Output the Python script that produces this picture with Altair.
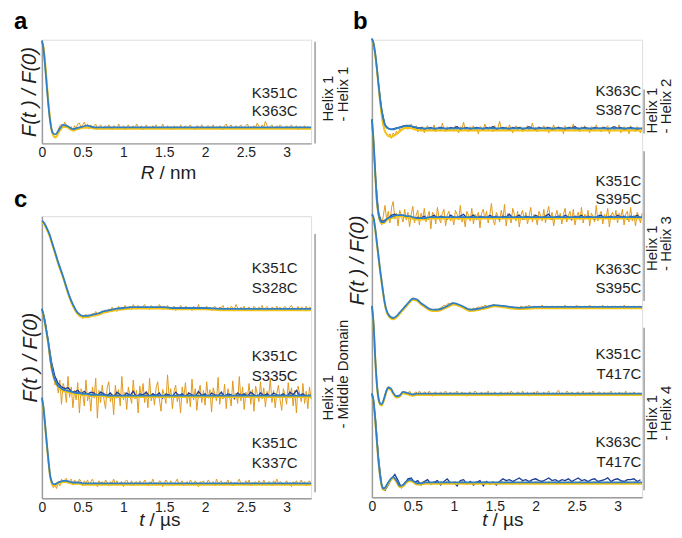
import altair as alt
import numpy as np
import pandas as pd

FONT = "Liberation Sans"

# sampling grids (µs)
T_DATA = np.round(np.arange(166) * 0.02, 2)
T_NAVY = np.round(np.arange(83) * 0.04, 2)
T_FIT = [0, 0.02, 0.04, 0.06, 0.08, 0.10, 0.12, 0.14, 0.16, 0.18, 0.20, 0.23, 0.26,
         0.30, 0.34, 0.38, 0.42, 0.46, 0.50, 0.55, 0.60, 0.65, 0.70, 0.75, 0.80, 0.90,
         1.00, 1.10, 1.20, 1.30, 1.40, 1.50, 1.60, 1.80, 2.00, 2.20, 2.40, 2.60, 2.80,
         3.00, 3.30]
TICKS = [0, 0.5, 1, 1.5, 2, 2.5, 3]

# values in % of modulation (100 = F(0), 0 = plateau)
# ---------------- panel a : K351C / K363C
A_FIT = [100, 90, 70, 47, 25, 8, -3, -7, -8, -7, -4, 0, 3, 2, 0, -2, -1, 0, 1, 2, 1] + [0] * 20
A_YEL = [100, 94, 76, 53, 30, 11, -2, -8, -10, -9, -5, -1, 2, 2, 0, -2, -1, 0, 1, 1, 1] + [0] * 20
A_DATA = [100, 93, 75, 52, 30, 10, -4, -10, -11, -9,
          -3, 2, 4, 1, 6, 3, 0, -3, 1, -4,
          2, -1, 4, 5, 0, 3, 6, 1, 4, -2,
          3, -1, 2, 4, -3, 1, 3, -2, 0, 2,
          -1, 3, 0, -3, 2, 1, -2, 4, 0, -1,
          2, -3, 1, 3, -1, 0, 2, -2, 4, 1,
          -1, 2, -3, 0, 3, -1, 1, -2, 2, 0,
          3, -2, 1, -1, 4, 0, -2, 2, -1, 1,
          -3, 2, 0, 1, -2, 3, -1, 0, 2, -2,
          1, 3, -1, 0, -3, 2, 1, -1, 3, 0,
          -2, 1, 2, -1, 0, 3, -2, 1, -1, 2,
          0, -3, 2, 4, -1, 1, 3, -2, 0, 2,
          -1, 1, 3, -2, 0, 2, 4, -1, 1, -2,
          2, 0, 5, 1, -2, 3, 0, 7, 2, -1,
          1, 3, -2, 0, 2, -1, 3, 1, -2, 0,
          2, -1, 1, 3, -2, 0, 2, -3, 1, 0,
          -1, 2, -2, 1, -1, 0]

# ---------------- panel c
C1_FIT = [100, 99, 96, 92, 88, 83, 77, 71, 65, 59, 53, 45, 37, 25, 14, 5, -2, -6, -8, -8,
          -7, -6, -5, -3, -2, 0, 1, 2, 2, 2, 2, 2, 1, 1, 1, 0, 0, 0, 0, 0, 0]
C1_DATA = [100, 98, 97, 92, 87, 84, 76, 72, 64, 60,
           52, 47, 41, 36, 30, 24, 17, 12, 7, 3,
           0, -4, -6, -9, -7, -11, -8, -6, -10, -7,
           -9, -5, -7, -3, -6, -4, -7, -2, -4, -1,
           -3, 0, -2, 2, -1, 1, -3, 3, 0, 2,
           1, 4, 0, 2, 3, -1, 5, 2, 1, 4,
           2, 0, 3, 5, 1, 2, -1, 4, 2, 0,
           3, 1, 5, 2, -1, 3, 1, 4, 0, 2,
           1, 3, -2, 2, 0, 4, 1, -1, 3, 2,
           0, 2, -2, 3, 1, 0, 5, -1, 2, 1,
           -1, 3, 0, 2, -2, 1, 3, 0, -1, 2,
           1, 4, -1, 0, 2, -2, 3, 1, 0, 5,
           1, -1, 2, 0, 3, -2, 1, 2, 0, -1,
           3, 1, -2, 2, 0, 4, -1, 1, 3, 0,
           -2, 2, 1, -1, 3, 0, 2, -2, 1, 3,
           0, -1, 2, 4, -1, 1, 0, 3, -2, 2,
           1, -1, 3, 0, 2, 1]

C2_FIT = [100, 93, 83, 72, 60, 45, 33, 24, 18, 14, 11, 9, 7, 6, 5, 4, 3, 3, 2, 2,
          1, 1, 1, 1] + [0] * 17
C2_DATA = [100, 95, 86, 70, 62, 40, 28, 30, 12, 20,
           3, 18, -10, 14, 8, -8, 22, -2, 10, -14,
           6, -5, 15, -20, 8, 2, -12, 18, -6, 4,
           -18, 10, -3, 20, -26, 6, -8, 12, -4, -15,
           9, 16, -7, 2, -22, 12, -3, 7, -12, 22,
           -5, 4, -16, 10, 0, -9, 18, -4, 6, -20,
           11, -2, 14, -8, 5, -14, 20, -6, 3, -11,
           9, 16, -4, -18, 7, 1, -9, 24, -3, 8,
           -15, 5, 12, -7, 2, -20, 10, -2, 15, -9,
           4, -13, 19, -5, 8, -17, 3, 12, -8, 6,
           -11, 16, -3, 7, -19, 9, 2, -6, 21, -10,
           5, -4, 13, -15, 8, 0, -12, 17, -5, 3,
           -9, 22, -6, 10, -16, 4, -2, 14, -10, 7,
           -18, 11, 2, -7, 16, -4, 9, -13, 5, -1,
           20, -8, 6, -14, 3, 12, -5, -17, 8, 1,
           -10, 15, -3, 9, -12, 6, -20, 11, 2, -7,
           14, -9, 5, -15, 10, -4]
C2_NAVY = [100, 85, 62, 38, 22, 14, 10, 8, 9, 5,
           4, 6, 2, 5, 1, 4, 3, -1, 4, 2,
           0, 3, -2, 4, 1, -1, 3, 0, 5, -2,
           2, 1, 4, -1, 2, 0, 3, -3, 2, 1,
           -1, 4, 0, 2, -2, 3, 1, -1, 5, 0,
           2, -2, 3, 1, 0, 4, -1, 2, 1, -3,
           3, 0, 2, -1, 4, 1, -2, 3, 0, 2,
           -1, 3, 1, 0, 2, -2, 4, 1, 6, 0,
           2, -1, 1]

C3_FIT = [100, 88, 68, 47, 27, 10, 2, -1, -1, 0, 1, 2, 3, 3, 2, 1, 1, 1, 0] + [0] * 22
C3_DATA = [100, 86, 66, 44, 25, 8, -1, -5, -2, -6,
           2, -3, 5, 1, 4, 6, 0, 3, 5, -2,
           4, 1, -1, 5, 2, -3, 3, 0, 4, -2,
           2, 5, -1, 1, -4, 3, 0, 2, -2, 4,
           1, -3, 2, 0, 5, -1, 3, -2, 1, 2,
           -4, 2, 4, 0, -1, 3, -3, 1, 2, -2,
           3, 0, -1, 4, 1, -3, 2, 0, 5, -1,
           1, -2, 3, 2, -4, 0, 4, 1, -2, 3,
           0, -1, 2, 5, -2, 1, 3, -3, 0, 2,
           -1, 4, 1, -2, 3, 0, -4, 2, 1, 3,
           -2, 0, 4, 1, -1, 2, -3, 5, 0, 1,
           3, -2, 1, 0, 4, -1, 2, -3, 1, 0,
           2, 5, -1, 1, -2, 3, 0, 4, -3, 1,
           0, 2, -2, 3, 1, -1, 4, 0, -2, 2,
           1, -3, 3, 0, 5, -1, 2, 1, -2, 0,
           3, -1, 1, -4, 2, 0, 3, -2, 1, 4,
           -1, 2, -3, 1, 3, -1]

# ---------------- panel b
B1_FIT = [100, 95, 84, 68, 50, 33, 20, 10, 4, 1, 0, -1, -1, 0, 1, 2, 3, 3, 2, 1, 0] + [0] * 20
B1_YEL = [100, 95, 84, 68, 49, 31, 16, 5, -2, -5, -7, -8, -7, -5, -2, 1, 2, 2, 1, 0, -1] + [-1] * 20
B1_DATA = [100, 96, 83, 66, 47, 30, 15, 3, -4, -6,
           -9, -6, -11, -5, -8, -3, -6, 0, -3, 3,
           1, 4, -1, 2, 5, 0, -2, 3, -4, 1,
           -2, 2, -5, 0, 3, -3, 1, -1, 4, -4,
           0, 2, -3, 6, -1, -4, 2, 0, -2, 1,
           -3, 3, -1, -5, 2, 0, 7, -2, 1, -4,
           2, -1, 3, -3, 0, -6, 2, 1, -2, 5,
           -1, -3, 2, 0, -4, 3, -2, 1, 8, -1,
           0, -3, 2, -2, 4, -1, -5, 1, 3, -2,
           0, 2, -4, 1, -1, 3, -3, 0, 6, -2,
           1, -4, 2, -1, 0, 3, -3, 2, -5, 1,
           -1, 4, -2, 0, 2, -3, 1, -6, 3, 0,
           -2, 2, -1, 5, -3, 0, 1, -4, 2, -1,
           3, -2, 0, -5, 2, 1, -3, 4, -1, 0,
           -4, 2, -2, 1, 3, -6, 0, 2, -3, 1,
           -1, 4, -5, 0, 2, -3, 1, -6, 3, -2,
           0, -4, 2, -1, -5, 1]
B1_NAVY = [100, 84, 50, 20, 4, 0, -1, 0, 1, 2,
           3, 3, 2, 1, 0, 1, -1, 0, 1, -1,
           0, 1, 0, -1, 1, 0, 2, -1, 0, 1,
           -1, 0, 1, 0, -1, 1, 0, 2, -1, 0,
           1, 0, -1, 1, 0, 1, -1, 0, 2, 0,
           -1, 1, 0, 0, 1, -1, 0, 1, 0, -1,
           1, 0, 2, -1, 0, 1, 0, -1, 1, 0,
           0, 1, -1, 0, 2, 0, 1, -1, 0, 1,
           0, -1, 0]

B2_FIT = [100, 78, 47, 18, 4, -3, -5, -5, -4, -2, -1, 0, 1, 2, 2, 2, 1, 1, 0, -1,
          -1, -1] + [0] * 19
B2_DATA = [100, 80, 44, 20, 8, -4, -8, 2, 12, -3,
           6, -6, 10, 16, -2, 4, -9, 7, 1, -5,
           8, -3, 5, -10, 3, 11, -6, 2, 7, -8,
           4, -2, 9, -5, 0, 6, -12, 5, 3, -7,
           10, -1, -6, 4, 8, -9, 2, 6, -4, 1,
           -8, 7, 3, -3, 12, -5, 1, -10, 6, 2,
           -4, 9, -7, 3, 0, 5, -11, 4, 8, -2,
           6, -6, 2, 14, -3, -8, 5, 1, -5, 7,
           -2, 13, -9, 4, 0, -6, 9, 3, -4, 6,
           -10, 2, 7, -3, 5, -7, 1, 10, -5, 3,
           0, -8, 6, 2, -4, 8, -6, 4, 11, -3,
           5, -9, 1, 7, -2, 4, -7, 3, 9, -5,
           2, 6, -4, 8, -8, 0, 5, -3, 10, -6,
           3, -2, 7, -9, 4, 1, -5, 12, -4, 2,
           6, -7, 3, -1, 9, -10, 2, 5, -3, 7,
           -6, 4, 0, 8, -8, 3, 6, -5, 10, -4,
           2, -9, 5, 1, -6, 4]
B2_NAVY = [100, 45, 4, -5, -3, -1, 2, 3, 1, 2,
           1, 0, -1, -2, 0, -1, 1, -2, 0, 2,
           -1, 1, 0, -2, 2, 0, -1, 1, 3, -1,
           0, 2, -2, 1, 0, -1, 2, 0, 1, -2,
           1, 0, 3, -1, 0, 2, -2, 1, 0, -1,
           2, 0, -1, 1, 3, -2, 0, 1, -1, 2,
           0, -2, 1, 0, 2, -1, 1, 0, -2, 1,
           2, -1, 0, 1, -1, 2, 0, 1, -2, 1,
           0, 2, -1]

B3_FIT = [100, 96, 85, 70, 55, 40, 27, 14, 3, -4, -8, -11, -12, -10, -6, -2, 2, 6, 9, 8,
          4, 1, -2, -3, -3, 0, 4, 1, -3, -2, 0, 2, 1, -1, 0] + [0] * 6
B3_DATA = [100, 97, 86, 71, 54, 41, 26, 15, 2, -4,
           -8, -10, -12, -11, -13, -10, -8, -6, -4, -2,
           1, 2, 4, 6, 8, 10, 9, 8, 8, 6,
           4, 3, 1, 0, -1, -3, -2, -3, -4, -2,
           -3, -2, -1, 0, 2, 1, 3, 4, 3, 5,
           4, 3, 3, 2, 1, 0, -1, -2, -1, -3,
           -2, -3, -1, -2, -1, 0, -1, 1, 0, 2,
           1, 0, 2, 1, 3, 2, 1, 2, 1, 0,
           1, 0, -1, 0, -2, -1, 0, -1, -2, 0,
           -1, 1, 0, -1, 1, 0, 2, 0, -1, 1,
           0, -1, 1, 0, 2, -1, 0, 1, -1, 0,
           1, 0, -2, 1, 0, 1, -1, 0, 2, 0,
           -1, 1, 0, -1, 0, 2, 0, 1, -1, 0,
           1, -1, 0, 2, 0, -1, 1, 0, -1, 1,
           0, 2, -1, 0, 1, 0, -2, 1, 0, 1,
           -1, 0, 1, -1, 2, 0, 0, 1, -1, 0,
           1, 0, -1, 1, 0, 0]

B4_FIT = [100, 80, 42, 12, -5, -11, -12, -8, -2, 4, 7, 6, 1, -3, -2, 2, 1, 0, -1, 0] + [0] * 21
B4_DATA = [100, 82, 45, 14, -4, -12, -14, -9, -1, 5,
           8, 5, 6, 1, -3, -4, -2, -4, 0, 3,
           1, 2, -1, 3, 0, -2, 1, 2, -1, 3,
           0, -2, 2, 1, -1, 3, 0, -3, 1, 2,
           -1, 0, 2, -2, 1, 3, -1, 0, 2, -2,
           1, 0, 3, -1, -2, 2, 0, 1, -3, 1,
           2, -1, 0, 3, 1, -2, 0, 2, -1, 1,
           0, 3, -2, 1, -1, 2, 0, -3, 1, 2,
           -1, 1, 0, 2, -2, 3, 1, -1, 0, 2,
           1, -2, 3, 0, -1, 2, -3, 1, 0, 2,
           -1, 3, 1, -2, 0, 2, -1, 1, 3, -2,
           0, 1, -1, 2, 4, -1, 1, 0, -2, 3,
           1, -1, 2, 0, -3, 1, 2, -1, 0, 3,
           -2, 1, 0, 2, -1, 3, 0, -2, 1, 2,
           0, -1, 2, -2, 1, 0, 3, -1, 0, 1,
           -2, 2, 0, 1, -1, 3, -2, 0, 1, -1,
           2, 0, -2, 1, -1, -3]

B5_FIT = [100, 92, 72, 48, 25, 8, -3, -7, -6, -3, 0, 4, 6, 2, -4, -3, 1, 3, 2, -1, -1] + [0] * 20
B5_DATA = [100, 91, 70, 46, 24, 7, -4, -8, -7, -4,
           0, 3, 5, 6, 4, 0, -3, -5, -4, -2,
           0, 2, 3, 2, 1, 0, -1, -2, -1, 0,
           -1, 1, 0, -2, 0, 1, -1, 0, 1, -1,
           0, -1, 1, 0, -2, 0, 1, -1, 0, -2,
           0, 1, -1, 0, -1, 1, 0, -2, 0, -1,
           1, 0, -1, 0, 1, -2, 0, -1, 0, 1,
           -1, 0, -2, 0, 1, -1, 0, 0, -2, 1,
           0, -1, 1, 0, -1, -2, 0, 1, -1, 0,
           -2, 0, 1, -1, 0, 0, -1, 1, 0, -2,
           1, 0, -1, 0, 2, -1, 0, -1, 1, 0,
           -1, 0, 1, -2, 0, 1, -1, 0, 0, -1,
           1, -1, 0, 1, -1, 0, -2, 1, 0, -1,
           0, 1, -1, 0, -2, 0, 1, -1, 0, 1,
           -1, 0, 0, -2, 1, -1, 0, 1, -1, 0,
           0, -1, 1, 0, -2, 0, 1, -1, 0, -1,
           1, 0, -1, 0, -1, 0]
B5_NAVY = [100, 76, 28, -4, -9, -3, 4, 9, 2, -6,
           -2, 4, 5, 0, 2, -3, 1, 3, -2, 0,
           2, -3, 1, 4, -1, 0, -4, 2, 3, -2,
           1, -3, 0, 2, -4, 1, -2, 0, -3, 1,
           4, 2, 3, 1, 3, 5, 2, 3, 1, 3,
           4, 2, 1, 3, 5, 2, 3, 1, 3, 2,
           4, 1, 3, 5, 2, 3, 1, 3, 4, 1,
           2, 3, 5, 1, 3, 4, 2, 1, 3, 3,
           4, 1, 3]

# ---------------- styling
COL_DATA = "#E09A1E"
COL_NAVY = "#1C3C9C"
COL_YEL = "#F3C414"
COL_FIT = "#2F7FC4"
GRAY = "#9C9C9C"
TXT = "#1E1E1E"


def panel_df(traces):
    rows = []
    for tr in traces:
        sets = [("data", T_DATA, tr["data"]), ("navy", T_NAVY, tr.get("navy")),
                ("yel", T_FIT, tr.get("yel", tr["fit"])), ("fit", T_FIT, tr["fit"])]
        for kind, tt, vv in sets:
            if vv is None:
                continue
            assert len(tt) == len(vv), (tr["name"], kind, len(vv))
            for t, v in zip(tt, vv):
                rows.append({"t": float(t), "y": tr["off"] + v / 100.0 * tr["amp"],
                             "trace": tr["name"], "kind": kind})
    return pd.DataFrame(rows)


def one():
    return pd.DataFrame({"k": [0]})


def make_panel(traces, width, height, letter, letter_xy, xt_parts, xt_xy,
               sides, ytitle_pad, label_x, title_y=None):
    df = panel_df(traces)
    xs = alt.Scale(domain=[0, 3.3], nice=False, zero=False)
    ys = alt.Scale(domain=[0, height], nice=False, zero=False)
    xax = alt.Axis(values=TICKS, format="~g", title=None, grid=False, ticks=False,
                   domainColor=GRAY, domainWidth=1.5, labelFontSize=14, labelColor=TXT,
                   labelFont=FONT, labelPadding=2, labelFlush=False)
    yargs = dict(title="F(t ) / F(0)", grid=False, ticks=False, labels=False,
                 domainColor=GRAY, domainWidth=1.5, titleFont=FONT, titleFontSize=20,
                 titleFontStyle="italic", titleFontWeight="normal", titleColor=TXT,
                 titlePadding=ytitle_pad)
    if title_y is not None:
        yargs["titleY"] = title_y
    yax = alt.Axis(**yargs)
    X = alt.X("t:Q", scale=xs, axis=xax)
    Y = alt.Y("y:Q", scale=ys, axis=yax)
    base = alt.Chart(df).encode(x=X, y=Y, detail="trace:N")
    layers = [
        base.transform_filter("datum.kind == 'data'").mark_line(
            color=COL_DATA, strokeWidth=1.0),
        base.transform_filter("datum.kind == 'navy'").mark_line(
            color=COL_NAVY, strokeWidth=1.3),
        base.transform_filter("datum.kind == 'yel'").mark_line(
            color=COL_YEL, strokeWidth=2.0, yOffset=1.3, interpolate="monotone"),
        base.transform_filter("datum.kind == 'fit'").mark_line(
            color=COL_FIT, strokeWidth=1.8, interpolate="monotone"),
    ]
    # trace labels
    lab_rows = []
    for tr in traces:
        l1, l2 = tr["labels"]
        d1, d2 = tr.get("label_dy", (39, 19))
        lab_rows.append({"t": label_x, "y": tr["off"] + d1, "txt": l1})
        lab_rows.append({"t": label_x, "y": tr["off"] + d2, "txt": l2})
    layers.append(alt.Chart(pd.DataFrame(lab_rows)).mark_text(
        align="right", baseline="middle", font=FONT, fontSize=15, color=TXT).encode(
        x=alt.X("t:Q", scale=xs), y=alt.Y("y:Q", scale=ys), text="txt:N"))
    # side brackets + rotated labels
    for s in sides:
        layers.append(alt.Chart(one()).mark_rule(color=GRAY, strokeWidth=1.5).encode(
            x=alt.value(s["rx"]), y=alt.value(s["y1"]), y2=alt.value(s["y2"])))
        for tx, xx, yy in s["texts"]:
            layers.append(alt.Chart(one()).mark_text(
                angle=270, align="left", baseline="middle", font=FONT, fontSize=15,
                color=TXT).encode(x=alt.value(xx), y=alt.value(yy), text=alt.value(tx)))
    # panel letter
    layers.append(alt.Chart(one()).mark_text(
        align="left", baseline="alphabetic", font=FONT, fontSize=24, fontWeight="bold",
        color="#000000").encode(x=alt.value(letter_xy[0]), y=alt.value(letter_xy[1]),
                                text=alt.value(letter)))
    # x title (italic symbol + unit)
    sym, unit = xt_parts
    layers.append(alt.Chart(one()).mark_text(
        align="right", baseline="alphabetic", font=FONT, fontSize=19, fontStyle="italic",
        color=TXT).encode(x=alt.value(xt_xy[0]), y=alt.value(height + xt_xy[1]),
                          text=alt.value(sym)))
    layers.append(alt.Chart(one()).mark_text(
        align="left", baseline="alphabetic", font=FONT, fontSize=19, color=TXT).encode(
        x=alt.value(xt_xy[0] + 5), y=alt.value(height + xt_xy[1]), text=alt.value(unit)))
    return alt.layer(*layers).properties(width=width, height=height)


panel_a = make_panel(
    [dict(name="a1", off=16, amp=87, data=A_DATA, fit=A_FIT, yel=A_YEL,
          labels=("K351C", "K363C"), label_dy=(35, 16))],
    270, 104, "a", (-28, -11), ("R", "/ nm"), (113, 36),
    [dict(rx=274, y1=2, y2=104, texts=[("Helix 1", 287, 82), ("- Helix 1", 302, 82)])],
    2, 3.134)

panel_c = make_panel(
    [dict(name="c1", off=190, amp=88, data=C1_DATA, fit=C1_FIT,
          labels=("K351C", "S328C"), label_dy=(41, 21)),
     dict(name="c2", off=103, amp=87, data=C2_DATA, navy=C2_NAVY, fit=C2_FIT,
          labels=("K351C", "S335C"), label_dy=(40, 20)),
     dict(name="c3", off=15, amp=86, data=C3_DATA, fit=C3_FIT,
          labels=("K351C", "K337C"), label_dy=(40, 20))],
    270, 283, "c", (-28, -9), ("t", "/ µs"), (103, 28),
    [dict(rx=274, y1=18, y2=277, texts=[("Helix 1", 287, 205),
                                        ("- Middle Domain", 302, 213)])],
    1, 3.134)

panel_b = make_panel(
    [dict(name="b1", off=370, amp=90, data=B1_DATA, navy=B1_NAVY, fit=B1_FIT, yel=B1_YEL,
          labels=("K363C", "S387C"), label_dy=(38, 18)),
     dict(name="b2", off=281, amp=98, data=B2_DATA, navy=B2_NAVY, fit=B2_FIT,
          labels=("K351C", "S395C"), label_dy=(36, 18)),
     dict(name="b3", off=191, amp=93, data=B3_DATA, fit=B3_FIT,
          labels=("K363C", "S395C"), label_dy=(38, 19)),
     dict(name="b4", off=104, amp=88, data=B4_DATA, fit=B4_FIT,
          labels=("K351C", "T417C"), label_dy=(40, 20)),
     dict(name="b5", off=15, amp=89, data=B5_DATA, navy=B5_NAVY, fit=B5_FIT,
          labels=("K363C", "T417C"), label_dy=(40, 20))],
    271, 459, "b", (-19, -11), ("t", "/ µs"), (116, 29),
    [dict(rx=273, y1=50, y2=94, texts=[("Helix 1", 281, 94), ("- Helix 2", 295, 94)]),
     dict(rx=273, y1=112, y2=262, texts=[("Helix 1", 281, 232), ("- Helix 3", 295, 232)]),
     dict(rx=273, y1=289, y2=452, texts=[("Helix 1", 281, 402), ("- Helix 4", 295, 402)])],
    4, 3.29, title_y=221)

# top row: a | b (flush); panel c placed under a (the nested row counts as zero height
# in flush layout, so the spacing is a's height + the gap)
top_row = alt.hconcat(panel_a, panel_b, spacing=61, bounds="flush")
chart = alt.vconcat(top_row, panel_c, spacing=177, bounds="flush").properties(
    padding={"left": 5, "top": 0, "right": -1, "bottom": -2}
).configure_view(stroke=None).configure(font=FONT, background="white")

chart.save("out.html", embed_options={"renderer": "svg", "actions": False})
